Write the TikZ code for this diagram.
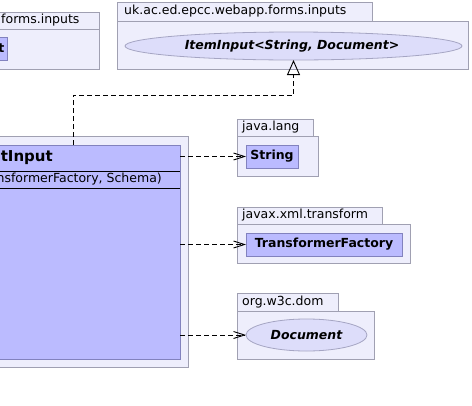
\documentclass[tikz,border=0pt]{standalone}
\usepackage{fontspec}
\setmainfont{DejaVu Sans}
\usetikzlibrary{arrows.meta,shapes.geometric}
\definecolor{pkgfill}{RGB}{238,238,252}
\definecolor{pkgline}{RGB}{160,160,178}
\definecolor{clsfill}{RGB}{187,187,255}
\definecolor{clsline}{RGB}{130,130,190}
\definecolor{ifill}{RGB}{221,221,250}
\definecolor{iline}{RGB}{165,165,195}
\tikzset{
  box/.style={rectangle, inner sep=0pt, outer sep=0pt, line width=1pt},
  pkg/.style={box, draw=pkgline, fill=pkgfill},
  cls/.style={box, draw=clsline, fill=clsfill},
  iface/.style={ellipse, inner sep=0pt, outer sep=0pt, line width=0.8pt, draw=iline, fill=ifill},
  lbl/.style={inner sep=0pt, font=\fontsize{12.5}{15}\selectfont},
  blbl/.style={inner sep=0pt, font=\bfseries\fontsize{12.5}{15}\selectfont},
  ilbl/.style={inner sep=0pt, font=\bfseries\itshape\fontsize{12.5}{15}\selectfont},
  dep/.style={line width=0.9pt, dash pattern=on 5pt off 3pt, -{Straight Barb[length=11pt,width=7pt,line width=0.9pt]}},
  real/.style={line width=0.9pt, dash pattern=on 5pt off 3pt, -{Triangle[open,length=15pt,width=13pt,line width=0.9pt]}}
}
\begin{document}
\begin{tikzpicture}[x=1pt,y=-1pt]
\useasboundingbox (0,0) rectangle (472,405);
\clip (0,0) rectangle (472,405);

% package A (top-left, cut off)
\node[pkg, minimum width=109pt, minimum height=40pt] (pAbody) at (44.5,49) {};
\node[pkg, minimum width=109pt, minimum height=17pt] (pAtab) at (44.5,20.5) {};
\node[lbl, anchor=west] (pAlbl) at (1,20.5) {forms.inputs};
\node[cls, minimum width=17pt, minimum height=23pt] (pAcls) at (-1.5,48.5) {};
\node[blbl, anchor=east] (pAclslbl) at (4.5,48.5) {t};

% package B
\node[pkg, minimum width=351pt, minimum height=48pt] (pBbody) at (292.5,45) {};
\node[pkg, minimum width=255pt, minimum height=19pt] (pBtab) at (244.5,11.5) {};
\node[lbl, anchor=west] (pBlbl) at (124,11.5) {uk.ac.ed.epcc.webapp.forms.inputs};
\node[iface, minimum width=337pt, minimum height=28pt] (item) at (293.5,46) {};
\node[ilbl] (itemlbl) at (292,46) {ItemInput<String, Document>};

% main class package and class
\node[pkg, minimum width=198pt, minimum height=231pt] (pCbody) at (89,251.5) {};
\node[cls, minimum width=190pt, minimum height=214pt] (cls) at (85,252) {};
\draw[line width=1pt] (cls.west |- 0,171) -- (cls.east |- 0,171);
\draw[line width=1pt] (cls.west |- 0,188) -- (cls.east |- 0,188);
\node[inner sep=0pt, anchor=east, font=\bfseries\fontsize{15}{18}\selectfont] (clsname) at (53,158) {tInput};
\node[lbl, anchor=east] (ctor) at (162,179.5) {nsformerFactory, Schema)};

% java.lang
\node[pkg, minimum width=81pt, minimum height=40pt] (pSbody) at (277.5,156) {};
\node[pkg, minimum width=76pt, minimum height=17pt] (pStab) at (275,127.5) {};
\node[lbl, anchor=west] (pSlbl) at (242,127.5) {java.lang};
\node[cls, minimum width=52pt, minimum height=23pt] (str) at (272,156.5) {};
\node[blbl] (strlbl) at (272,156.5) {String};

% javax.xml.transform
\node[pkg, minimum width=173pt, minimum height=39pt] (pTbody) at (323.5,243.5) {};
\node[pkg, minimum width=145pt, minimum height=17pt] (pTtab) at (309.5,215.5) {};
\node[lbl, anchor=west] (pTlbl) at (242,215.5) {javax.xml.transform};
\node[cls, minimum width=156pt, minimum height=23pt] (tf) at (324,244.5) {};
\node[blbl] (tflbl) at (324,244.5) {TransformerFactory};

% org.w3c.dom
\node[pkg, minimum width=137pt, minimum height=48pt] (pDbody) at (305.5,335) {};
\node[pkg, minimum width=101pt, minimum height=18pt] (pDtab) at (287.5,302) {};
\node[lbl, anchor=west] (pDlbl) at (242,302) {org.w3c.dom};
\node[iface, minimum width=121pt, minimum height=32pt] (doc) at (306.5,335) {};
\node[ilbl] (doclbl) at (306.5,335) {Document};

% connectors
\draw[dep] (cls.east |- str.west) -- (str.west);
\draw[dep] (cls.east |- tf.west) -- (tf.west);
\draw[dep] (cls.east |- doc.west) -- (doc.west);
\draw[real] ([xshift=-12pt]cls.north) -- ++(0,-50) -| (item.south);
\end{tikzpicture}
\end{document}
